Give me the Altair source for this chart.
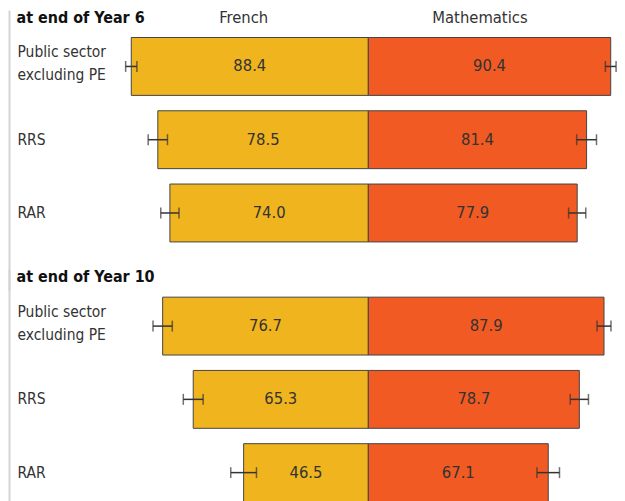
import altair as alt
import pandas as pd

categories = ["Public sector|excluding PE", "RRS", "RAR"]
subjects = ["French", "Mathematics"]
headers = ["at end of Year 6", "at end of Year 10"]

french_y6 = [88.4, 78.5, 74.0]
math_y6 = [90.4, 81.4, 77.9]
french_y10 = [76.7, 65.3, 46.5]
math_y10 = [87.9, 78.7, 67.1]

err_french_y6 = [2.1, 3.6, 3.4]
err_math_y6 = [2.0, 3.7, 3.2]
err_french_y10 = [3.6, 3.7, 4.8]
err_math_y10 = [2.6, 3.4, 4.2]

colors = ["#F0B41E", "#F15A22"]
FONT = "Liberation Sans Narrow, Arial Narrow, DejaVu Sans Condensed, sans-serif"
TXT = "#333333"


def make_df(fr, ma, efr, ema):
    rows = []
    for i, c in enumerate(categories):
        rows.append(dict(cat=c, subject="French", value=fr[i], err=efr[i], sign=-1))
        rows.append(dict(cat=c, subject="Mathematics", value=ma[i], err=ema[i], sign=1))
    return pd.DataFrame(rows)


def panel(df, header, first):
    base = alt.Chart(df).transform_calculate(
        xv="datum.sign*datum.value",
        mid="datum.sign*datum.value/2",
        lo="datum.sign*datum.value-datum.err",
        hi="datum.sign*datum.value+datum.err",
        zero="0",
        lab="format(datum.value, '.1f')",
    )
    y = alt.Y("cat:N", sort=categories, axis=None,
              scale=alt.Scale(paddingInner=0.21, paddingOuter=0.105))
    xs = alt.Scale(domain=[-92, 92], nice=False, zero=False)

    bars = base.mark_bar(stroke="#444444", strokeWidth=1).encode(
        x=alt.X("xv:Q", scale=xs, axis=None),
        x2="zero:Q",
        y=y,
        color=alt.Color("subject:N", scale=alt.Scale(domain=subjects, range=colors), legend=None),
    )
    vals = base.mark_text(font=FONT, fontSize=16.5, color=TXT, baseline="middle").encode(
        x=alt.X("mid:Q", scale=xs, axis=None), y=y, text="lab:N")
    err = base.mark_rule(color=TXT, strokeWidth=1.5).encode(
        x=alt.X("lo:Q", scale=xs, axis=None), x2="hi:Q", y=y)
    tlo = base.mark_tick(color=TXT, orient="vertical", size=11, thickness=1.5).encode(
        x=alt.X("lo:Q", scale=xs, axis=None), y=y)
    thi = base.mark_tick(color=TXT, orient="vertical", size=11, thickness=1.5).encode(
        x=alt.X("hi:Q", scale=xs, axis=None), y=y)
    fr_only = base.transform_filter("datum.subject == 'French'")
    labels_multi = fr_only.transform_filter("indexof(datum.cat, '|') >= 0").mark_text(
        font=FONT, fontSize=15.5, color=TXT, align="left", baseline="middle",
        lineBreak="|", lineHeight=23, dy=-14).encode(
        x=alt.value(-104.5), y=y, text="cat:N")
    labels_single = fr_only.transform_filter("indexof(datum.cat, '|') < 0").mark_text(
        font=FONT, fontSize=15.5, color=TXT, align="left", baseline="middle").encode(
        x=alt.value(-104.5), y=y, text="cat:N")

    hdf = pd.DataFrame({"t": [header]})
    head = alt.Chart(hdf).mark_text(
        font=FONT, fontSize=16, fontWeight="bold", color="#111111",
        align="left", baseline="middle").encode(
        x=alt.value(-105.5), y=alt.value(-12.3), text="t:N")
    line = alt.Chart(hdf).mark_rule(color="#d4d4d4", strokeWidth=2).encode(
        x=alt.value(-112.5), y=alt.value(-19.5), y2=alt.value(262))
    layers = [line, bars, err, tlo, thi, vals, labels_multi, labels_single, head]
    if first:
        sdf = pd.DataFrame({"s": subjects, "px": [122.5, 359.5]})
        subj = alt.Chart(sdf).mark_text(
            font=FONT, fontSize=16.5, color=TXT, align="center", baseline="middle").encode(
            x=alt.X("px:Q", scale=None, axis=None), y=alt.value(-12.3), text="s:N")
        layers.append(subj)
    return alt.layer(*layers).properties(width=495, height=220.5)


p1 = panel(make_df(french_y6, math_y6, err_french_y6, err_math_y6), headers[0], True)
p2 = panel(make_df(french_y10, math_y10, err_french_y10, err_math_y10), headers[1], False)

chart = alt.vconcat(p1, p2, spacing=39.5, bounds="flush").properties(
    padding=0).configure_view(stroke=None).resolve_scale(x="independent")

chart.save("out.html", embed_options={"renderer": "svg", "actions": False})
